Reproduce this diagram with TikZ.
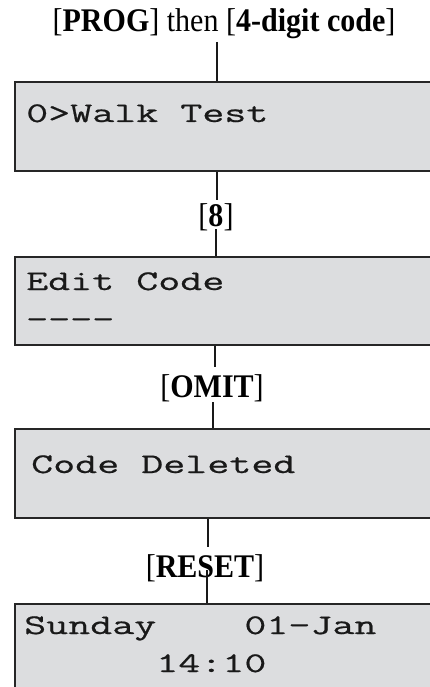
\documentclass[tikz,border=0pt]{standalone}
\usepackage{fontspec}
\setmainfont{Liberation Serif}[FakeStretch=0.91]
\newfontfamily\lcdfont[FakeStretch=1.5,FakeBold=0.6]{Latin Modern Mono}
\begin{document}
\begin{tikzpicture}[x=1pt,y=-1pt,
  lcdbox/.style={draw=black!85,line width=2.2pt,fill=lcdgrey,anchor=north west,
    minimum width=460pt,minimum height=89pt,inner sep=0pt},
  lcdtext/.style={font=\lcdfont\fontsize{28.5}{34}\selectfont,anchor=base west,inner sep=0pt,text=black!90},
  keylabel/.style={font=\fontsize{33}{38}\selectfont,anchor=base,inner sep=0pt},
  conn/.style={line width=2pt,draw=black!90}]
\definecolor{lcdgrey}{HTML}{DCDDDF}
\useasboundingbox (0,0) rectangle (430,687);
\clip (0,0) rectangle (430,687);
% title
\node[keylabel] (title) at (224,32) {[\textbf{PROG}] then [\textbf{4-digit code}]};
% boxes
\node[lcdbox] (b1) at (14,81) {};
\node[lcdbox,minimum height=88pt] (b2) at (14,256) {};
\node[lcdbox] (b3) at (14,428) {};
\node[lcdbox] (b4) at (14,603) {};
% box texts
\node[lcdtext] (t1) at (26,122) {0>Walk~Test};
\node[lcdtext] (t2a) at (26,290) {Edit~Code};
\node[lcdtext] (t2b) at (26,328) {----};
\node[lcdtext] (t3) at (31,473) {Code~Deleted};
\node[lcdtext] (t4a) at (24,634) {Sunday~~~~01-Jan};
\node[lcdtext] (t4b) at (24,672) {~~~~~~14:10};
% key labels
\node[keylabel] (k8) at (216,226) {[\textbf{8}]};
\node[keylabel] (komit) at (212,397) {[\textbf{OMIT}]};
\node[keylabel] (kreset) at (205,577) {[\textbf{RESET}]};
% connector end points
\coordinate (c1) at (217,42);
\coordinate (c2) at (217,200);
\coordinate (c3) at (216,229);
\coordinate (c4) at (215,367);
\coordinate (c5) at (213,402);
\coordinate (c6) at (208,547);
\coordinate (c7) at (207,570);
% connectors
\draw[conn] (c1) -- (c1 |- b1.north);
\draw[conn] (c2 |- b1.south) -- (c2);
\draw[conn] (c3) -- (c3 |- b2.north);
\draw[conn] (c4 |- b2.south) -- (c4);
\draw[conn] (c5) -- (c5 |- b3.north);
\draw[conn] (c6 |- b3.south) -- (c6);
\draw[conn] (c7) -- (c7 |- b4.north);
\end{tikzpicture}
\end{document}
